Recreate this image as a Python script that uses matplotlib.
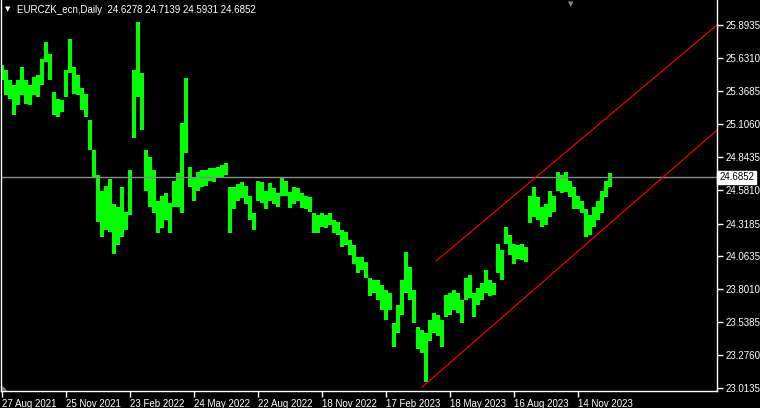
import numpy as np
import matplotlib
matplotlib.use("Agg")
import matplotlib.pyplot as plt
from matplotlib.transforms import blended_transform_factory

# bar highs / lows, one entry every 4 trading days starting 27 Aug 2021
high = [25.58, 25.54, 25.46, 25.42, 25.46, 25.56, 25.46, 25.42, 25.48, 25.50,
        25.62, 25.76, 25.66, 25.36, 25.31, 25.30, 25.54, 25.78, 25.56, 25.50,
        25.39, 25.35, 25.14, 24.90, 24.70, 24.58, 24.62, 24.67, 24.47, 24.45,
        24.61, 24.41, 24.74, 25.54, 25.92, 25.51, 24.90, 24.85, 24.74, 24.50,
        24.54, 24.56, 24.48, 24.66, 24.72, 25.12, 25.47, 24.77, 24.69, 24.73,
        24.74, 24.74, 24.76, 24.76, 24.77, 24.78, 24.80, 24.61, 24.61, 24.63,
        24.65, 24.62, 24.54, 24.40, 24.66, 24.65, 24.58, 24.64, 24.60, 24.56,
        24.69, 24.66, 24.57, 24.61, 24.60, 24.56, 24.54, 24.53, 24.40, 24.39,
        24.40, 24.39, 24.40, 24.35, 24.33, 24.27, 24.25, 24.19, 24.15, 24.05,
        24.05, 24.01, 23.89, 23.87, 23.87, 23.83, 23.79, 23.77, 23.53, 23.67,
        23.87, 24.09, 23.97, 23.79, 23.50, 23.47, 23.45, 23.55, 23.61, 23.59,
        23.55, 23.75, 23.77, 23.79, 23.77, 23.71, 23.89, 23.91, 23.77, 23.81,
        23.85, 23.95, 23.87, 23.85, 24.16, 24.11, 24.29, 24.23, 24.16, 24.15,
        24.16, 24.13, 24.54, 24.61, 24.53, 24.45, 24.47, 24.58, 24.54, 24.73,
        24.70, 24.73, 24.66, 24.61, 24.54, 24.50, 24.43, 24.39, 24.45, 24.50,
        24.58, 24.66, 24.72]
low = [25.46, 25.34, 25.31, 25.18, 25.26, 25.34, 25.27, 25.26, 25.34, 25.32,
       25.42, 25.60, 25.46, 25.18, 25.16, 25.20, 25.32, 25.51, 25.35, 25.34,
       25.22, 25.16, 24.90, 24.69, 24.33, 24.21, 24.27, 24.25, 24.08, 24.15,
       24.21, 24.27, 24.39, 25.00, 25.32, 25.06, 24.58, 24.45, 24.40, 24.24,
       24.28, 24.35, 24.24, 24.45, 24.45, 24.40, 24.88, 24.61, 24.50, 24.58,
       24.61, 24.62, 24.66, 24.65, 24.68, 24.69, 24.70, 24.24, 24.43, 24.50,
       24.52, 24.47, 24.35, 24.27, 24.50, 24.48, 24.43, 24.50, 24.47, 24.45,
       24.54, 24.54, 24.44, 24.47, 24.50, 24.44, 24.43, 24.41, 24.24, 24.24,
       24.29, 24.28, 24.31, 24.24, 24.23, 24.13, 24.15, 24.07, 24.00, 23.93,
       23.95, 23.89, 23.74, 23.77, 23.71, 23.63, 23.55, 23.63, 23.34, 23.45,
       23.59, 23.77, 23.71, 23.53, 23.32, 23.29, 23.06, 23.39, 23.45, 23.43,
       23.34, 23.58, 23.59, 23.63, 23.61, 23.53, 23.71, 23.73, 23.58, 23.67,
       23.71, 23.77, 23.74, 23.75, 23.93, 23.87, 24.16, 24.07, 24.00, 24.04,
       24.03, 24.01, 24.32, 24.37, 24.35, 24.29, 24.31, 24.37, 24.41, 24.58,
       24.56, 24.57, 24.53, 24.43, 24.43, 24.40, 24.21, 24.23, 24.29, 24.35,
       24.40, 24.53, 24.61]

price_ticks = [25.8935, 25.6310, 25.3685, 25.1060, 24.8435, 24.5810,
               24.3185, 24.0635, 23.8010, 23.5385, 23.2760, 23.0135]
date_labels = ["27 Aug 2021", "25 Nov 2021", "23 Feb 2022", "24 May 2022",
               "22 Aug 2022", "18 Nov 2022", "17 Feb 2023", "18 May 2023",
               "16 Aug 2023", "14 Nov 2023"]
last_price = 24.6852
# channel lines: (bar, price) start and end
upper_x = [434, 715]
upper_y = [24.02, 25.8935]
lower_x = [420, 715]
lower_y = [23.02, 25.06]

plt.rcParams['font.family'] = ['Liberation Sans', 'DejaVu Sans']

fig = plt.figure(figsize=(7.6, 4.08), dpi=100, facecolor='black')
ax = fig.add_axes([1 / 760, 17 / 408, 716 / 760, 391 / 408], facecolor='black')

bars = np.arange(len(high)) * 4
ax.bar(bars, np.array(high) - np.array(low), bottom=low, width=4,
       color='#00ff00', linewidth=0)
ax.vlines(bars, low, high, color='#00ff00', linewidth=1.2)

ax.axhline(last_price, color='#8c8c8c', linewidth=1)
ax.plot(upper_x, upper_y, color='red', linewidth=0.8)
ax.plot(lower_x, lower_y, color='red', linewidth=0.8)

ax.set_xlim(-1, 715)
ax.set_ylim(22.990, 26.092)

for s in ['left', 'right', 'bottom']:
    ax.spines[s].set_color('white')
    ax.spines[s].set_linewidth(1)
ax.spines['top'].set_visible(False)

ax.yaxis.tick_right()
ax.set_yticks(price_ticks)
ax.set_yticklabels(['%.4f' % p for p in price_ticks])
ax.set_xticks(np.arange(len(date_labels)) * 64)
ax.set_xticklabels(date_labels, ha='left')
ax.tick_params(axis='both', colors='white', labelsize=7, length=4, width=1,
               direction='out')
ax.tick_params(axis='x', pad=2)
ax.tick_params(axis='y', pad=2)

trans = blended_transform_factory(ax.transAxes, ax.transData)
ax.text(1.003, last_price, '%.4f' % last_price, transform=trans, color='black',
        fontsize=7, va='center', ha='left',
        bbox=dict(facecolor='white', edgecolor='white', pad=1.2))

fig.text(17 / 760, 1 - 10 / 408, 'EURCZK_ecn,Daily  24.6278 24.7139 24.5931 24.6852',
         color='white', fontsize=7, va='center', ha='left')
fig.text(8 / 760, 1 - 9 / 408, '\u25bc', color='white', fontsize=5,
         va='center', ha='center', family='DejaVu Sans')
fig.text(571 / 760, 1 - 4 / 408, '\u25bc', color='#8c8c8c', fontsize=5,
         va='center', ha='center', family='DejaVu Sans')
fig.text(5 / 760, 20 / 408, '\u25e3', color='#8c8c8c', fontsize=5,
         va='center', ha='center', family='DejaVu Sans')

fig.savefig('out.png', dpi=100, facecolor='black')
